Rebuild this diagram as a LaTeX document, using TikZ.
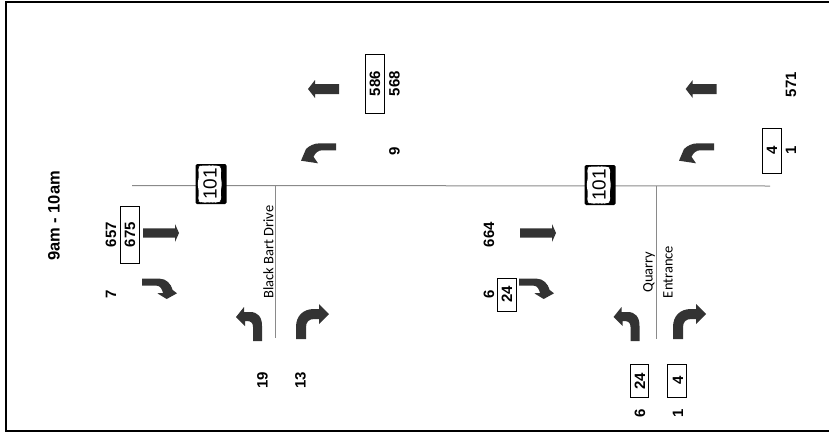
\documentclass[tikz,border=0pt]{standalone}
\usepackage{fontspec}
\setmainfont{Liberation Sans}
\newfontfamily\roadfont{Carlito}
\definecolor{arrowgrey}{HTML}{333333}
\definecolor{roadgrey}{HTML}{8A8A8A}
\tikzset{
  x=1pt,y=-1pt,
  num/.style={rotate=90,inner sep=0pt,font=\fontsize{15}{16}\selectfont\bfseries},
  title/.style={rotate=90,inner sep=0pt,font=\fontsize{16.5}{17}\selectfont\bfseries},
  roadlabel/.style={rotate=90,inner sep=0pt,font=\roadfont\fontsize{14.5}{15}\selectfont},
  framebox/.style={draw=black,line width=1pt,fill=none},
  frameline/.style={draw=black,line width=2pt},
  road/.style={draw=roadgrey,line width=1pt},
  arrowfill/.style={fill=arrowgrey,draw=none},
  westarrow/.pic={\path[arrowfill] (0,0)--(7,-9)--(7,-5)--(31,-5)--(31,5)--(7,5)--(7,9)--cycle;},
  eastarrow/.pic={\path[arrowfill] (0,0)--(-4,-9)--(-4,-4.7)--(-36,-4.7)--(-36,4.7)--(-4,4.7)--(-4,9)--cycle;},
  topturn/.pic={\path[arrowfill] (35,-17.4)--(19,-17.4)
      .. controls (13,-17.4) and (8.5,-15) .. (5,-11.7)--(0,0)--(17,2.6)--(12.5,-4)
      .. controls (14.5,-8) and (17.5,-10.4) .. (21,-10.4)--(35,-10.4)--cycle;},
  eastturn/.pic={\path[arrowfill] (0,0)--(18,0)
      .. controls (24,0) and (29,5) .. (30.7,11.3)--(35,14.6)--(24.7,20.3)--(15.3,14.6)--(21,14.3)
      .. controls (20,10) and (18,7) .. (14.7,7)--(0,7)--cycle;},
  bottomleft/.pic={\path[arrowfill] (0,0)--(8,-10)--(8,-5)--(14,-5)
      .. controls (22,-5) and (26,0) .. (26,9)--(26,24)--(17,24)--(17,10)
      .. controls (17,6) and (15,4) .. (11,4)--(9,4)--(9,9)--cycle;},
  bottomright/.pic={\path[arrowfill] (0,0)--(-10,-10)--(-10,-5)--(-15,-5)
      .. controls (-26,-5) and (-33,2) .. (-33,13)--(-33,25)--(-23,25)--(-23,13)
      .. controls (-23,8) and (-20,5) .. (-15,5)--(-10,5)--(-10,10)--cycle;},
  shield/.pic={
    \path[fill=black,rounded corners=1.5pt] (-15.5,-20) rectangle (15.5,20);
    \path[fill=white,rounded corners=3pt] (-13,-17) -- (-10,-18.5) -- (-2,-18.5) -- (0,-17.5) -- (2,-18.5) -- (7,-18.5) -- (10.5,-16.5) -- (9.5,-8) -- (11,0) -- (9.5,8) -- (10.5,16.5) -- (7,18.5) -- (2,18.5) -- (0,17.5) -- (-2,18.5) -- (-10,18.5) -- (-13,17) -- (-12,8) -- (-13.5,0) -- (-12,-8) -- cycle;
    \node[rotate=90,inner sep=0pt,font=\fontsize{19}{19}\selectfont] at (-1,0) {101};},
}
\begin{document}
\begin{tikzpicture}
\useasboundingbox (0,0) rectangle (829,434);
% frame
\coordinate (ftr) at (829,2);
\coordinate (ftl) at (6.3,2);
\coordinate (fbl) at (6.3,431);
\coordinate (fbr) at (829,431);
\coordinate (fbx) at (5,431);
\draw[frameline] (ftr) -- (ftl) -- (fbl);
\draw[frameline] (fbx) -- (fbr);
% roads
\coordinate (mainw) at (132,185.5);
\coordinate (maine) at (770,186);
\coordinate (bbtop) at (275.5,185.5);
\coordinate (bbbot) at (275.5,338);
\coordinate (qetop) at (656.5,186);
\coordinate (qebot) at (656.5,339);
\draw[road] (mainw) -- (maine);
\draw[road] (bbtop) -- (bbbot);
\draw[road] (qetop) -- (qebot);
% shields
\pic at (211,184) {shield};
\pic at (600,185) {shield};
% arrows
\pic at (308,89) {westarrow};
\pic at (685.7,89) {westarrow};
\pic at (179,233) {eastarrow};
\pic at (556,233) {eastarrow};
\pic at (301,160.7) {topturn};
\pic at (679,160.7) {topturn};
\pic at (142,278.7) {eastturn};
\pic at (519,278.7) {eastturn};
\pic at (236,317) {bottomleft};
\pic at (613.5,317) {bottomleft};
\pic at (329,314) {bottomright};
\pic at (706,314) {bottomright};
% boxes
\node[framebox,minimum width=19pt,minimum height=59pt,inner sep=0pt] (b586) at (375,84) {};
\node[framebox,minimum width=19pt,minimum height=57pt,inner sep=0pt] (b675) at (130,235) {};
\node[framebox,minimum width=19pt,minimum height=33pt,inner sep=0pt] (b24a) at (506.8,294.7) {};
\node[framebox,minimum width=19pt,minimum height=45pt,inner sep=0pt] (b4a) at (772,150.8) {};
\node[framebox,minimum width=18pt,minimum height=33pt,inner sep=0pt] (b24b) at (639.3,380.8) {};
\node[framebox,minimum width=19pt,minimum height=33pt,inner sep=0pt] (b4b) at (676.8,380.8) {};
% labels
\node[title] (t) at (54,216) {9am - 10am};
\node[num] (n657) at (111,234.5) {657};
\node[num] (n675) at (130,234.5) {675};
\node[num] (n7) at (111,294) {7};
\node[num] (n586) at (375,83.5) {586};
\node[num] (n568) at (394.5,83.5) {568};
\node[num] (n9) at (394.5,151) {9};
\node[num] (n19) at (262.5,380) {19};
\node[num] (n13) at (300.5,380) {13};
\node[num] (n664) at (489,234.5) {664};
\node[num] (n6a) at (489,294) {6};
\node[num] (n24a) at (507,294.5) {24};
\node[num] (n571) at (791,84.5) {571};
\node[num] (n4a) at (772,150.5) {4};
\node[num] (n1a) at (791,150.5) {1};
\node[num] (n24b) at (640,381) {24};
\node[num] (n4b) at (678,380.5) {4};
\node[num] (n6b) at (640,413) {6};
\node[num] (n1b) at (678,413) {1};
\node[roadlabel] (lbb) at (268.5,252) {Black Bart Drive};
\node[roadlabel] (lq) at (649,272) {Quarry};
\node[roadlabel] (le) at (668,272) {Entrance};
\end{tikzpicture}
\end{document}
